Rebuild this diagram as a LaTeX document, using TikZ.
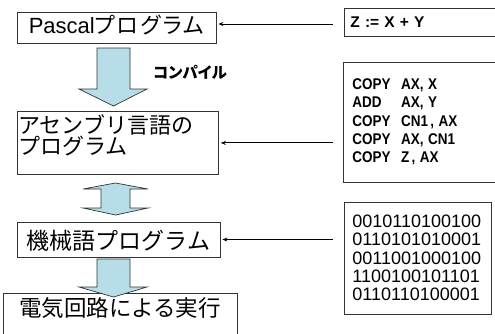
\documentclass[tikz,border=0pt]{standalone}
\usepackage{fontspec}
\usepackage{graphicx}
\setmainfont{Liberation Sans}
\newfontfamily\cjk{Noto Sans CJK JP}
\newfontfamily\cjkp{Noto Sans CJK JP}[RawFeature=+palt, LetterSpace=10]
\newfontfamily\cjkc{Noto Sans CJK JP}[RawFeature=+palt]
\usetikzlibrary{arrows.meta}
\definecolor{arrowfill}{HTML}{B7DEE8}
\definecolor{boxline}{HTML}{333333}
\tikzset{
  mainbox/.style={draw=boxline, line width=0.8pt, fill=white, inner sep=0pt},
  codebox/.style={draw=boxline, line width=0.8pt, fill=white, inner ysep=0pt, align=left},
  blockarrow/.style={draw=boxline, line width=0.7pt, fill=arrowfill, line join=miter},
  pointer/.style={draw=black, line width=0.9pt, {Stealth[length=5pt,width=4pt]}-}
}
\newcommand{\codeline}[2]{\scalebox{0.87}[1]{\makebox[56pt][l]{#1}#2}}
\begin{document}
\begin{tikzpicture}[x=1pt,y=-1pt]
\useasboundingbox (0,0) rectangle (495,333);

% left column boxes
\node[mainbox, minimum width=199pt, text height=21.5pt, text depth=9.5pt, anchor=base,
      font=\fontsize{22}{24}\selectfont]
  (pascal) at (116.5,33.5) {Pascal{\cjkp プログラム}};

\node[mainbox, anchor=north west] (asm) at (17,111)
  {\parbox[c][63pt][t]{201pt}{\cjk\fontsize{22}{21}\selectfont\leftskip=1pt
   \vspace*{3pt}アセンブリ言語の\\プログラム}};

\node[mainbox, minimum width=203pt, text height=27pt, text depth=8pt, anchor=base,
      font=\cjk\fontsize{23}{25}\selectfont]
  (mach) at (118.5,249) {機械語プログラム};

\node[mainbox, minimum width=234pt, text height=23pt, text depth=32pt, anchor=base,
      font=\cjk\fontsize{22.5}{25}\selectfont]
  (exec) at (120,316) {電気回路による実行};

% block arrows
\draw[blockarrow] (97,48) -- (130,48) -- (130,89) -- (147,89) -- (113.5,106)
  -- (79,89) -- (97,89) -- cycle;
\draw[blockarrow] (115.5,183) -- (148,189) -- (130,189) -- (130,208) -- (148,208)
  -- (115.5,215) -- (83,208) -- (101,208) -- (101,189) -- (83,189) -- cycle;
\draw[blockarrow] (97,259) -- (130,259) -- (130,287) -- (147,287) -- (113.5,297)
  -- (79,287) -- (97,287) -- cycle;

\node[font=\cjkc\bfseries\fontsize{15.5}{17}\selectfont, inner sep=0pt, anchor=west]
  (compile) at (153,72) {コンパイル};

% code boxes
\node[codebox, anchor=west, inner xsep=6pt, text width=150pt, minimum height=28pt,
      font=\bfseries\fontsize{15.5}{18}\selectfont]
  (zbox) at (344,22) {Z := X + Y};

\node[codebox, anchor=west, inner xsep=9pt, text width=142pt, minimum height=120pt,
      font=\bfseries\fontsize{15.5}{18.3}\selectfont]
  (asmcode) at (343,122) {\codeline{COPY}{AX, X}\\
   \codeline{ADD}{AX, Y}\\
   \codeline{COPY}{CN1\,, AX}\\
   \codeline{COPY}{AX, CN1}\\
   \codeline{COPY}{Z\,, AX}};

\node[codebox, anchor=west, inner xsep=8pt, text width=131pt, minimum height=112pt,
      font=\fontsize{18}{18.3}\selectfont]
  (bincode) at (344,258) {0010110100100\\0110101010001\\0011001000100\\1100100101101\\0110110100001};

% pointers
\draw[pointer, shorten <=2pt, shorten >=11pt] ([yshift=3.5pt]pascal.east) -- ([yshift=3.5pt]pascal.east -| zbox.west);
\draw[pointer, shorten <=2pt, shorten >=10pt] (asm.east) -- (asm.east -| asmcode.west);
\draw[pointer, shorten <=2pt, shorten >=11pt] (mach.east) -- (mach.east -| bincode.west);
\end{tikzpicture}
\end{document}
